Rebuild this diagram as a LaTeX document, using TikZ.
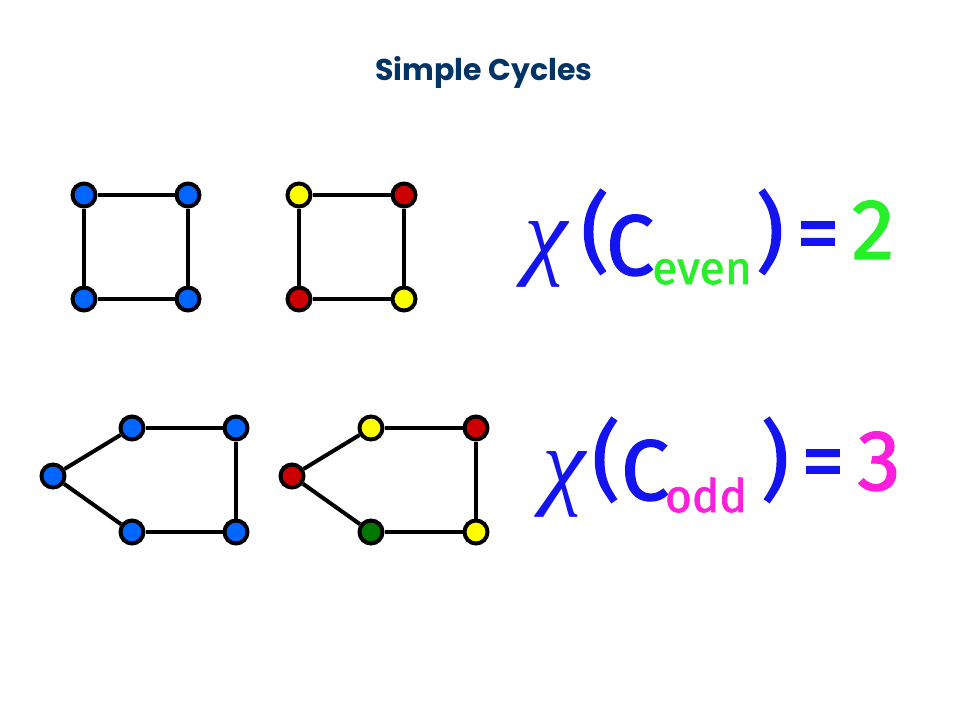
\documentclass[tikz,border=0pt]{standalone}
\usepackage{fontspec}
\setmainfont{Poppins}
\newfontfamily\formfont{Fira Sans}[FakeBold=1.6]
\newfontfamily\greekfont{Liberation Serif}
\usetikzlibrary{positioning}
\definecolor{vblue}{RGB}{0,102,255}
\definecolor{vred}{RGB}{204,0,0}
\definecolor{vyellow}{RGB}{255,255,0}
\definecolor{vgreen}{RGB}{0,120,0}
\definecolor{tnavy}{RGB}{0,51,102}
\definecolor{tblue}{RGB}{20,20,240}
\definecolor{tgreen}{RGB}{40,240,40}
\definecolor{tpink}{RGB}{255,30,220}
\begin{document}
\begin{tikzpicture}[x=1pt,y=-1pt,
    vtx/.style={circle, draw=black, line width=4pt, minimum size=23pt, inner sep=0pt},
    edge/.style={line width=4pt},
    big/.style={inner sep=0pt, anchor=base, text=tblue, font=\formfont\fontsize{86}{86}\selectfont},
    greek/.style={inner sep=0pt, anchor=base, text=tblue, font=\greekfont\itshape\fontsize{98}{98}\selectfont},
    sub/.style={inner sep=0pt, anchor=base, font=\formfont\fontsize{46}{46}\selectfont}]
\useasboundingbox (0,0) rectangle (960,720);

\node[inner sep=0pt, text=tnavy, font=\bfseries\fontsize{30}{30}\selectfont] (title) at (484,72) {Simple Cycles};

% the four cycles
\foreach \n/\x/\y/\c in {a1/84/195/vblue, a2/188/195/vblue, a3/188/299/vblue, a4/84/299/vblue,
    b1/299/195/vyellow, b2/404/195/vred, b3/404/299/vyellow, b4/299/299/vred,
    c1/53/476/vblue, c2/132/428/vblue, c3/236/428/vblue, c4/236/532/vblue, c5/132/532/vblue,
    d1/292/476/vred, d2/371/428/vyellow, d3/476/428/vred, d4/476/532/vyellow, d5/371/532/vgreen}
    \node[vtx, fill=\c] (\n) at (\x,\y) {};

\foreach \a/\b in {a1/a2, a2/a3, a3/a4, a4/a1, b1/b2, b2/b3, b3/b4, b4/b1,
    c1/c2, c2/c3, c3/c4, c4/c5, c5/c1, d1/d2, d2/d3, d3/d4, d4/d5, d5/d1}
    \draw[edge] (\a) -- (\b);

% chromatic numbers
\node[greek] (chiE) at (546,266) {χ};
\node[big] (lpE) at (595,262) {(};
\node[big] (cE) at (630,275) {C};
\node[sub, text=tgreen] (subE) at (702,284) {even};
\node[big] (rpE) at (770,262) {)};
\node[big] (eqE) at (818,262) {=};
\node[big, text=tgreen] (valE) at (873,259) {2};

\node[greek] (chiO) at (564,496) {χ};
\node[big] (lpO) at (606,490) {(};
\node[big] (cO) at (645,500) {C};
\node[sub, text=tpink] (subO) at (706,512) {odd};
\node[big] (rpO) at (775,490) {)};
\node[big] (eqO) at (823,490) {=};
\node[big, text=tpink] (valO) at (879,490) {3};
\end{tikzpicture}
\end{document}
